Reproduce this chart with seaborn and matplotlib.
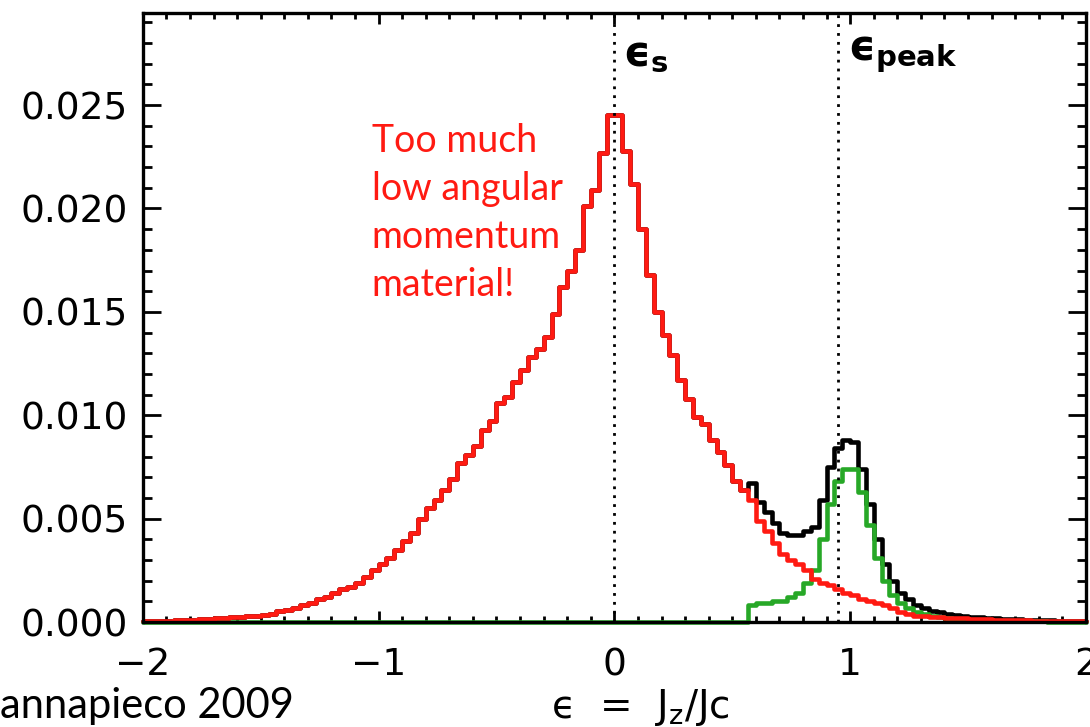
import numpy as np
import pandas as pd
import matplotlib
matplotlib.use("Agg")
import matplotlib.pyplot as plt
from matplotlib.ticker import MultipleLocator, FixedLocator
import seaborn as sns

# ---------------- data ----------------
# histogram bins of width 1/30 from -2 to 2 (120 bins)
x_range = (-2.0, 2.0)
n_bins = 120

# spheroid (red) component, fraction per bin
spheroid = [
    0.00003, 0.00004, 0.00005, 0.00006, 0.00008, 0.0001, 0.00012, 0.00014, 0.00016, 0.00018,
    0.0002, 0.00022, 0.00025, 0.00028, 0.0003, 0.00035, 0.0004, 0.00055, 0.0006, 0.0007,
    0.0008, 0.0009, 0.0011, 0.0012, 0.0014, 0.0016, 0.0017, 0.0019, 0.0022, 0.0025,
    0.0028, 0.0031, 0.0035, 0.0039, 0.0043, 0.0050, 0.0055, 0.0059, 0.0064, 0.0069,
    0.0077, 0.0081, 0.0085, 0.0093, 0.0097, 0.0106, 0.0109, 0.0116, 0.0122, 0.0128,
    0.0132, 0.0138, 0.0149, 0.0162, 0.0170, 0.0180, 0.0201, 0.0209, 0.0227, 0.0245,
    0.0245, 0.0228, 0.0212, 0.0190, 0.0168, 0.0150, 0.0139, 0.0129, 0.0117, 0.0108,
    0.0099, 0.0096, 0.0088, 0.0082, 0.0076, 0.0068, 0.0064, 0.0059, 0.0049, 0.0044,
    0.0038, 0.0033, 0.0030, 0.0028, 0.0025, 0.0021, 0.0019, 0.0018, 0.0016, 0.0014,
    0.0013, 0.0011, 0.0010, 0.0009, 0.0008, 0.0007, 0.0005, 0.0004, 0.0003, 0.0003,
    0.00025, 0.00022, 0.0002, 0.0002, 0.00018, 0.00016, 0.00015, 0.00013, 0.00012, 0.0001,
    0.0001, 0.00009, 0.00008, 0.00007, 0.00006, 0.00006, 0.00005, 0.00005, 0.00004, 0.00004,
]

# disk (green) component
disk = [
    0, 0, 0, 0, 0, 0, 0, 0, 0, 0,
    0, 0, 0, 0, 0, 0, 0, 0, 0, 0,
    0, 0, 0, 0, 0, 0, 0, 0, 0, 0,
    0, 0, 0, 0, 0, 0, 0, 0, 0, 0,
    0, 0, 0, 0, 0, 0, 0, 0, 0, 0,
    0, 0, 0, 0, 0, 0, 0, 0, 0, 0,
    0, 0, 0, 0, 0, 0, 0, 0, 0, 0,
    0, 0, 0, 0, 0, 0, 0, 0.0008, 0.0009, 0.0009,
    0.0010, 0.0010, 0.0012, 0.0014, 0.0019, 0.0025, 0.0040, 0.0057, 0.0068, 0.0074,
    0.0074, 0.0063, 0.0047, 0.0031, 0.0020, 0.0013, 0.0009, 0.0007, 0.0005, 0.0004,
    0.0003, 0.00025, 0.0002, 0.00015, 0.00012, 0.0001, 0.00009, 0.00008, 0.00007, 0.00006,
    0.00005, 0.00004, 0.00004, 0.00003, 0.00003, 0.00002, 0.00002, 0.00002, 0.00001, 0.00001,
]

x_ticks = [-2, -1, 0, 1, 2]
x_tick_labels = ["\u22122", "\u22121", "0", "1", "2"]
y_ticks = [0.000, 0.005, 0.010, 0.015, 0.020, 0.025]
y_tick_labels = ["0.000", "0.005", "0.010", "0.015", "0.020", "0.025"]
eps_s = 0.0
eps_peak = 0.95
annotation = "Too much\nlow angular\nmomentum\nmaterial!"
credit = "annapieco 2009"

# ---------------- figure ----------------
sns.set_style("ticks")
plt.rcParams["font.family"] = ["DejaVu Sans"]
plt.rcParams["mathtext.fontset"] = "dejavusans"
for key in ("text.color", "xtick.color", "ytick.color", "axes.labelcolor",
            "axes.edgecolor"):
    plt.rcParams[key] = "black"

edges = np.linspace(x_range[0], x_range[1], n_bins + 1)
centers = 0.5 * (edges[:-1] + edges[1:])
df = pd.DataFrame({"eps": centers,
                   "spheroid": spheroid,
                   "disk": disk})
df["total"] = df["spheroid"] + df["disk"]

fig = plt.figure(figsize=(10.9, 7.27), dpi=100)
ax = fig.add_axes([0.131, 0.1444, 0.8653, 0.8376])

RED = "#ff1a12"
GREEN = "#27a827"
lw = 3.3
for col, colr in (("total", "black"), ("disk", GREEN), ("spheroid", RED)):
    sns.histplot(data=df, x="eps", weights=col, bins=n_bins, binrange=x_range,
                 element="step", fill=False, color=colr, linewidth=lw, ax=ax)
for ln in ax.lines:
    ln.set_clip_on(False)

for xv in (eps_s, eps_peak):
    ax.axvline(xv, color="black", lw=2.0, linestyle=(0, (1, 2.2)), zorder=5)

ax.set_xlim(*x_range)
ax.set_ylim(0, 0.02945)
ax.set_xlabel("")
ax.set_ylabel("")

ax.xaxis.set_major_locator(FixedLocator(x_ticks))
ax.set_xticklabels(x_tick_labels)
ax.xaxis.set_minor_locator(MultipleLocator(0.1))
ax.yaxis.set_major_locator(FixedLocator(y_ticks))
ax.set_yticklabels(y_tick_labels)
ax.yaxis.set_minor_locator(MultipleLocator(0.001))

ax.tick_params(which="both", direction="in", top=True, right=True,
               width=2, color="black", labelcolor="black")
ax.tick_params(axis="x", which="major", length=8, pad=18, labelsize=27)
ax.tick_params(axis="x", which="minor", length=4)
ax.tick_params(axis="y", which="major", length=13, pad=11, labelsize=27)
ax.tick_params(axis="y", which="minor", length=6.5)
for sp in ax.spines.values():
    sp.set_linewidth(2.4)
    sp.set_color("black")

# labels near dotted lines (lunate epsilon)
ax.text(0.035, 0.0285, "\u03f5$_{\\bf s}$", fontsize=30, fontweight="bold",
        va="top", ha="left")
ax.text(0.99, 0.0285, "\u03f5$_{\\bf peak}$", fontsize=30, fontweight="bold",
        va="top", ha="left")

# red annotation
ax.text(-1.03, 0.02415, annotation, color=RED, fontsize=27,
        family=["Lato", "DejaVu Sans"], va="top", ha="left", linespacing=1.42)

# x label and credit
fig.text(0.587, 0.012, "\u03f5  =  J$_{\\rm z}$/Jc", fontsize=28,
         ha="center", va="baseline")
fig.text(0.0, 0.012, credit, fontsize=30, family=["Lato", "DejaVu Sans"],
         ha="left", va="baseline")

fig.savefig("out.png", dpi=100)
